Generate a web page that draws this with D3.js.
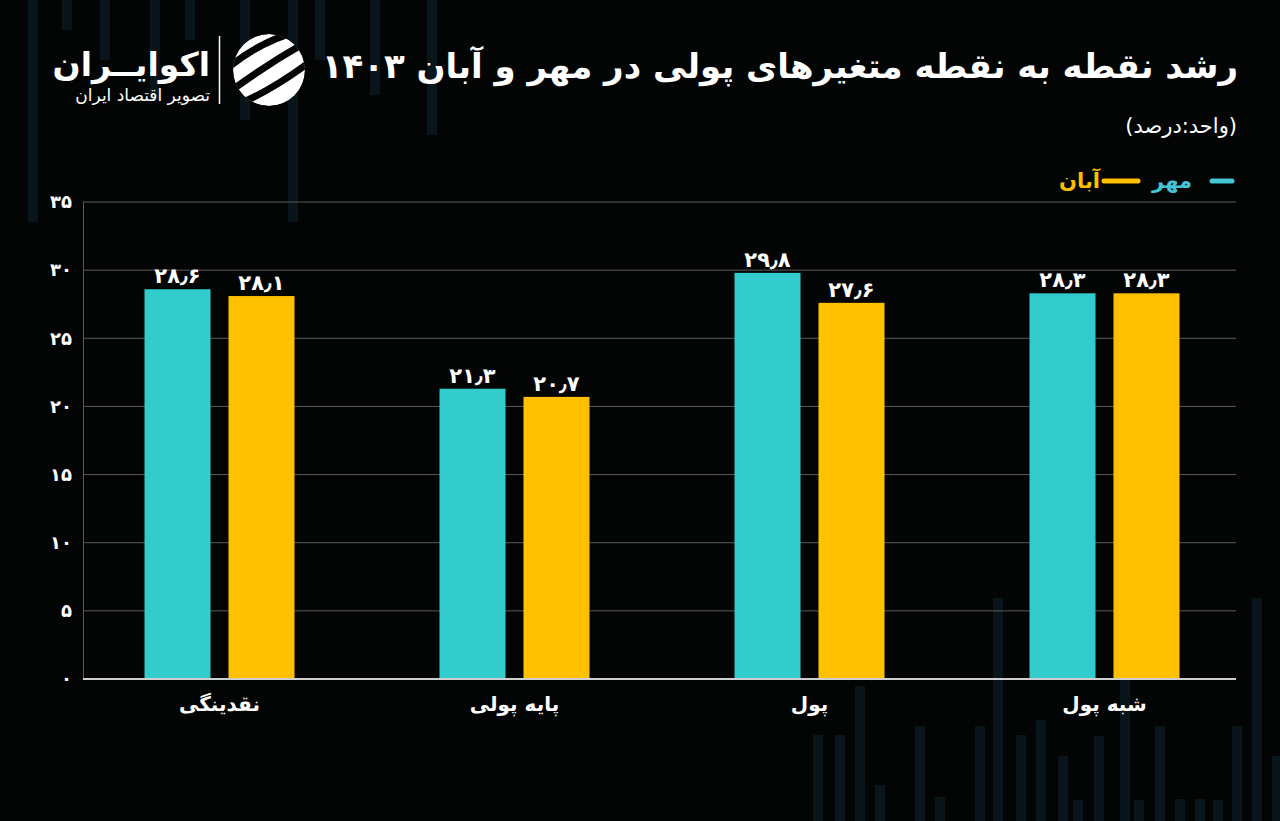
<!DOCTYPE html>
<html lang="fa">
<head>
<meta charset="utf-8">
<script src="https://cdn.jsdelivr.net/npm/d3@7"></script>
<style>
  html, body { margin: 0; padding: 0; background: #030505; }
  svg { display: block; }
  text { font-family: "DejaVu Sans", "Noto Sans", sans-serif; }
</style>
</head>
<body>
<svg id="chart" width="1280" height="821"></svg>
<script>
// ---- data ----
const categories = ["نقدینگی", "پایه پولی", "پول", "شبه پول"];
const seriesNames = ["مهر", "آبان"];
const mehrValues = [28.6, 21.3, 29.8, 28.3];
const abanValues = [28.1, 20.7, 27.6, 28.3];
const yTicks = [0, 5, 10, 15, 20, 25, 30, 35];
const titleText = "رشد نقطه به نقطه متغیرهای پولی در مهر و آبان ۱۴۰۳";
const unitText = "(واحد:درصد)";
const brandName = "اکوایــران";
const brandSub = "تصویر اقتصاد ایران";

const colors = { "مهر": "#33CCCC", "آبان": "#FFC000" };
const legendTextColors = { "مهر": "#45C4D6", "آبان": "#FFC000" };

const faDigits = "۰۱۲۳۴۵۶۷۸۹";
const toFa = s => String(s).replace(/[0-9]/g, d => faDigits[+d]).replace(".", "٫");

const svg = d3.select("#chart");
const W = 1280, H = 821;

// background
svg.append("rect").attr("width", W).attr("height", H).attr("fill", "#030505");

// decorative faint background bars
const deco = [
  [28, 0, 222], [62, 0, 30], [100, 0, 60], [150, 0, 100], [185, 0, 40], [240, 0, 120],
  [288, 0, 222], [315, 0, 60], [370, 0, 95], [427, 0, 135],
  [993, 598, 821], [1016, 735, 821], [1036, 720, 821], [813, 735, 821], [835, 735, 821],
  [855, 686, 821], [875, 785, 821], [915, 726, 821], [935, 797, 821], [975, 726, 821],
  [1058, 756, 821], [1073, 800, 821], [1094, 736, 821], [1120, 655, 821], [1134, 800, 821],
  [1155, 726, 821], [1175, 799, 821], [1195, 799, 821], [1213, 800, 821], [1232, 726, 821],
  [1252, 598, 821], [1272, 756, 821]
];
svg.append("g").selectAll("rect").data(deco).join("rect")
  .attr("x", d => d[0]).attr("y", d => d[1])
  .attr("width", 10).attr("height", d => d[2] - d[1])
  .attr("fill", "#08161b");

// ---- scales ----
const plotLeft = 83, plotRight = 1236, plotTop = 202, plotBottom = 679;
const y = d3.scaleLinear().domain([0, 35]).range([plotBottom, plotTop]);
const x0 = d3.scaleBand().domain(categories).range([72, 1252]).padding(0);
const x1 = d3.scaleBand().domain(seriesNames).range([0, 150]).paddingInner(0.214);
const groupOffset = (x0.bandwidth() - 150) / 2;

// grid
const grid = svg.append("g");
grid.selectAll("line").data(yTicks.filter(t => t > 0)).join("line")
  .attr("x1", plotLeft).attr("x2", plotRight)
  .attr("y1", d => y(d)).attr("y2", d => y(d))
  .attr("stroke", "#5a5a5a").attr("stroke-width", 1);
// left axis line
svg.append("line").attr("x1", plotLeft + 0.5).attr("x2", plotLeft + 0.5)
  .attr("y1", plotTop).attr("y2", plotBottom)
  .attr("stroke", "#5a5a5a").attr("stroke-width", 1);

// y tick labels
const yAxis = d3.axisLeft(y).tickValues(yTicks).tickSize(0).tickPadding(11).tickFormat(toFa);
const yg = svg.append("g").attr("transform", `translate(${plotLeft},0)`).call(yAxis);
yg.select(".domain").remove();
yg.selectAll("text").attr("fill", "#ffffff").attr("font-size", 18).attr("font-weight", "bold")
  .style("font-family", "'DejaVu Sans', sans-serif");

// bars
const rows = categories.map((c, i) => ({ cat: c, values: [
  { s: "مهر", v: mehrValues[i] }, { s: "آبان", v: abanValues[i] } ] }));

const groups = svg.append("g").selectAll("g").data(rows).join("g")
  .attr("transform", d => `translate(${x0(d.cat) + groupOffset},0)`);

groups.selectAll("rect").data(d => d.values).join("rect")
  .attr("x", d => x1(d.s)).attr("width", x1.bandwidth())
  .attr("y", d => y(d.v)).attr("height", d => y(0) - y(d.v))
  .attr("fill", d => colors[d.s]);

groups.selectAll("text.val").data(d => d.values).join("text")
  .attr("class", "val")
  .attr("x", d => x1(d.s) + x1.bandwidth() / 2)
  .attr("y", d => y(d.v) - 6)
  .attr("text-anchor", "middle")
  .attr("fill", "#ffffff").attr("font-size", 21).attr("font-weight", "bold")
  .text(d => toFa(d.v));

// baseline
svg.append("line").attr("x1", plotLeft).attr("x2", plotRight)
  .attr("y1", plotBottom).attr("y2", plotBottom)
  .attr("stroke", "#cfcfcf").attr("stroke-width", 2);

// x category labels
const xAxis = d3.axisBottom(x0).tickSize(0).tickPadding(18);
const xg = svg.append("g").attr("transform", `translate(0,${plotBottom})`).call(xAxis);
xg.select(".domain").remove();
xg.selectAll("text").attr("fill", "#ffffff").attr("font-size", 20).attr("font-weight", "bold")
  .style("font-family", "'DejaVu Sans', sans-serif").attr("direction", "rtl");

// title
svg.append("text").attr("x", 1238).attr("y", 78)
  .attr("text-anchor", "start").attr("direction", "rtl")
  .attr("fill", "#ffffff").attr("font-size", 34).attr("font-weight", "bold")
  .text(titleText);
svg.append("text").attr("x", 1237).attr("y", 133)
  .attr("text-anchor", "start").attr("direction", "rtl")
  .attr("fill", "#ffffff").attr("font-size", 21)
  .text(unitText);

// legend
const legend = svg.append("g");
const legendItems = [
  { s: "مهر", lx1: 1212, lx2: 1232, tx: 1192 },
  { s: "آبان", lx1: 1104, lx2: 1138, tx: 1100 }
];
legend.selectAll("line").data(legendItems).join("line")
  .attr("x1", d => d.lx1).attr("x2", d => d.lx2).attr("y1", 181).attr("y2", 181)
  .attr("stroke", d => legendTextColors[d.s]).attr("stroke-width", 5).attr("stroke-linecap", "round");
legend.selectAll("text").data(legendItems).join("text")
  .attr("x", d => d.tx).attr("y", 188).attr("text-anchor", "start").attr("direction", "rtl")
  .attr("fill", d => legendTextColors[d.s]).attr("font-size", 21).attr("font-weight", "bold")
  .text(d => d.s);

// brand
svg.append("text").attr("x", 210).attr("y", 76).attr("text-anchor", "start").attr("direction", "rtl")
  .attr("fill", "#ffffff").attr("font-size", 33).attr("font-weight", "bold").text(brandName);
svg.append("text").attr("x", 210).attr("y", 101).attr("text-anchor", "start").attr("direction", "rtl")
  .attr("fill", "#ffffff").attr("font-size", 17).attr("letter-spacing", 0).text(brandSub);
svg.append("line").attr("x1", 219.5).attr("x2", 219.5).attr("y1", 36).attr("y2", 104)
  .attr("stroke", "#ffffff").attr("stroke-width", 1.5);

// logo mark
const logo = svg.append("g").attr("transform", "translate(269,70)");
const defs = svg.append("defs");
defs.append("clipPath").attr("id", "logoClip").append("circle").attr("r", 36);
const lg = logo.append("g").attr("clip-path", "url(#logoClip)");
lg.append("circle").attr("r", 36).attr("fill", "#ffffff");
[-20, 0, 20].forEach(o => {
  lg.append("path")
    .attr("d", `M${-50 + o},${30 + o * 0.2} Q${o - 5},${-5 + o} ${50 + o},${-35 + o * 0.2}`)
    .attr("fill", "none").attr("stroke", "#030505").attr("stroke-width", 7);
});
</script>
</body>
</html>
